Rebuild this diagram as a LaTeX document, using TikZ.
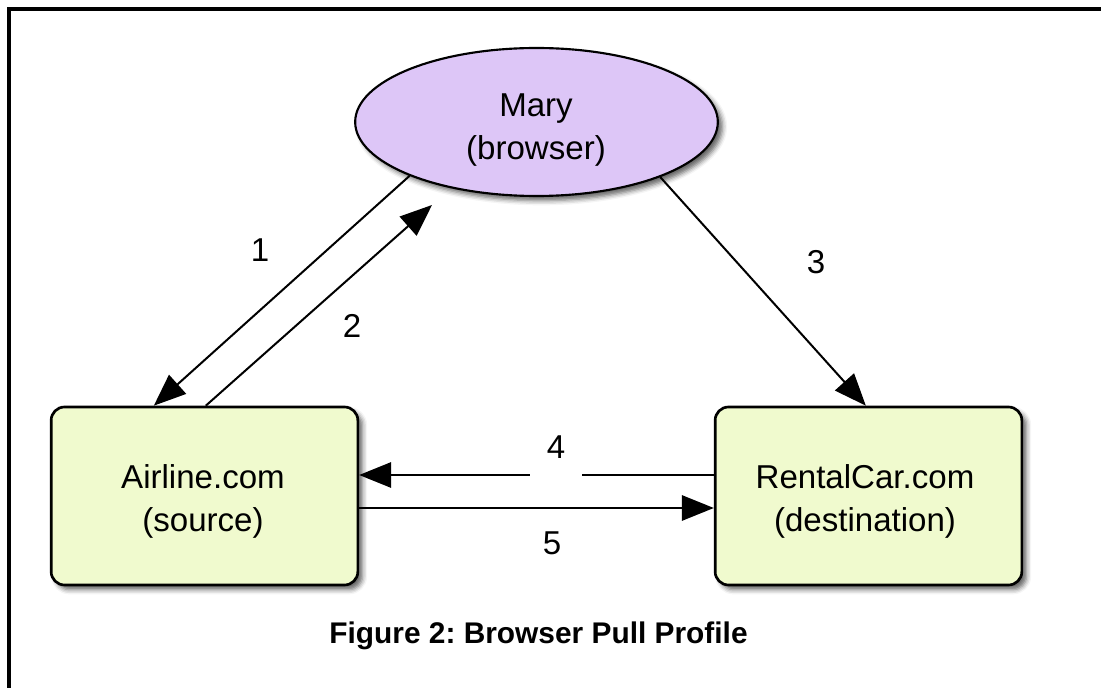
\documentclass[tikz,border=0pt]{standalone}
\usepackage{fontspec}
\setmainfont{Liberation Sans}
\usetikzlibrary{arrows.meta,shapes.geometric,shadows.blur,calc}
\definecolor{browserfill}{RGB}{221,198,247}
\definecolor{sitefill}{RGB}{240,250,206}
\frenchspacing

\begin{document}
\begin{tikzpicture}[x=0.75pt,y=-0.75pt,
  txt/.style={font=\fontsize{24.8}{32.25}\selectfont,inner sep=0pt},
  softshadow/.style={blur shadow={shadow xshift=3.5pt,shadow yshift=-3.5pt,shadow blur radius=3.5pt,shadow opacity=60}},
  actor/.style={ellipse,draw=black,line width=1.6pt,fill=browserfill,
    minimum width=272pt,minimum height=111pt,inner sep=0pt,softshadow},
  site/.style={rectangle,draw=black,line width=2pt,rounded corners=10pt,fill=sitefill,
    minimum width=230pt,minimum height=133.5pt,inner sep=0pt,softshadow},
  msg/.style={line width=1.5pt,-{Triangle[length=24pt,width=19pt]}},
  num/.style={txt}
]
\useasboundingbox (0,0) rectangle (1101,688);

% outer frame (top and left edges)
\draw[line width=3pt] (9,688) -- (9,9) -- (1101,9);

% participants
\node[actor] (mary) at (536.5,122) {};
\node[site] (air) at (204.5,496) {};
\node[site] (rent) at (868.5,496) {};

\node[txt,align=center] (marytxt) at (536,130) {Mary\\(browser)};
\node[txt,align=center] (airtxt) at (203,501.5) {Airline.com\\(source)};
\node[txt,align=center] (renttxt) at (865,501.5) {RentalCar.com\\(destination)};

% message flow
\coordinate (m2) at ($(mary.center)+(-104.5,83)$);
\draw[msg] (mary.203.5) -- ($(air.north west)+(104,0)$);
\draw[msg] ($(air.north west)+(156,0)$) -- (m2);
\draw[msg] (mary.336.9) -- ($(rent.north west)+(152,0)$);
\draw[msg] ($(rent.west)+(0,-21)$) -- ($(air.east)+(0,-21)$);
\draw[msg] ($(air.east)+(0,12)$) -- ($(rent.west)+(0,12)$);

% step numbers
\node[num] (l1) at (260,250) {1};
\node[num] (l2) at (352,326) {2};
\node[num] (l3) at (816,262) {3};
\node[num,fill=white,anchor=base,text height=21pt,text depth=14.25pt,minimum width=39pt] (l4) at (556,458) {4};
\node[num] (l5) at (552,543) {5};

% caption
\node[font=\bfseries\fontsize{22.4}{27}\selectfont,inner sep=0pt,anchor=base] (caption) at (538.5,643) {Figure 2: Browser Pull Profile};
\end{tikzpicture}
\end{document}
